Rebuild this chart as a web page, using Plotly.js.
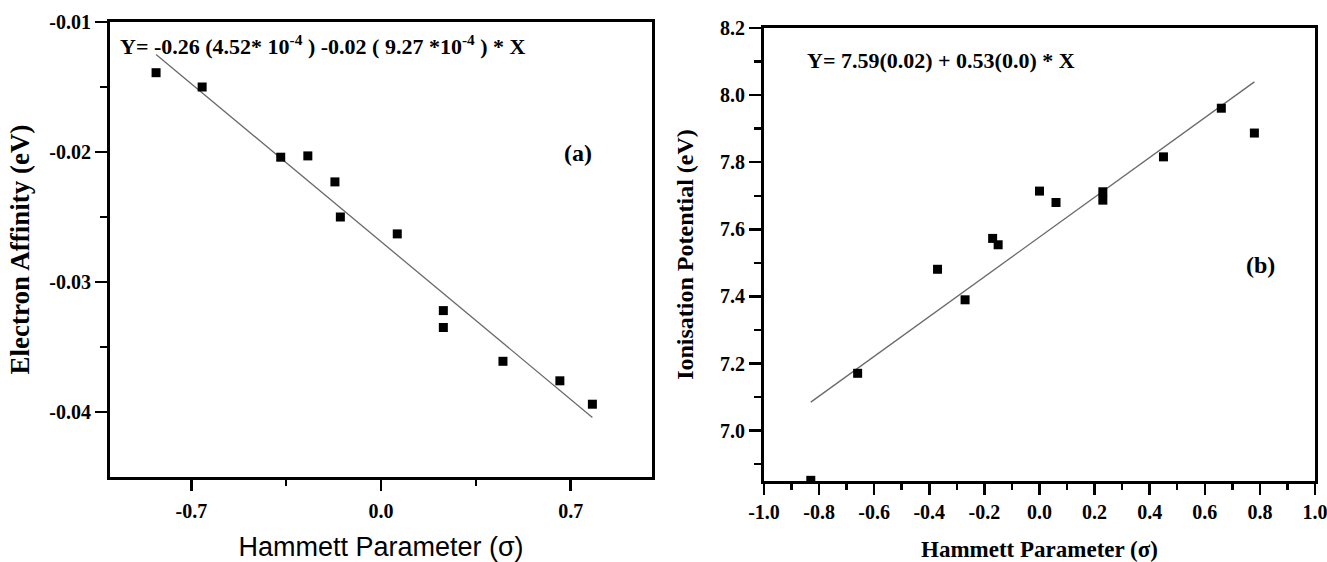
<!DOCTYPE html>
<html>
<head>
<meta charset="utf-8">
<script src="https://cdn.plot.ly/plotly-3.0.1.min.js"></script>
<style>
  html, body { margin: 0; padding: 0; background: #fff; }
  #chart { width: 1327px; height: 562px; }
</style>
</head>
<body>
<div id="chart"></div>
<script>
// ---- Data ----
// Panel (a): Hammett parameter vs electron affinity
const sigmaA = [-0.83, -0.66, -0.37, -0.27, -0.17, -0.15, 0.06, 0.23, 0.23, 0.45, 0.66, 0.78];
const electronAffinity = [-0.0139, -0.0150, -0.0204, -0.0203, -0.0223, -0.0250, -0.0263, -0.0322, -0.0335, -0.0361, -0.0376, -0.0394];

// Panel (b): Hammett parameter vs ionisation potential
const sigmaB = [-0.83, -0.66, -0.37, -0.27, -0.17, -0.15, 0.00, 0.06, 0.23, 0.23, 0.45, 0.66, 0.78];
const ionisationPotential = [6.852, 7.171, 7.481, 7.390, 7.573, 7.554, 7.714, 7.680, 7.712, 7.687, 7.816, 7.961, 7.887];

// Tick labels
const tickValsAx = [-0.7, 0.0, 0.7];
const tickTextAx = ['-0.7', '0.0', '0.7'];
const tickValsAy = [-0.04, -0.03, -0.02, -0.01];
const tickTextAy = ['-0.04', '-0.03', '-0.02', '-0.01'];
const tickValsBx = [-1.0, -0.8, -0.6, -0.4, -0.2, 0.0, 0.2, 0.4, 0.6, 0.8, 1.0];
const tickTextBx = ['-1.0', '-0.8', '-0.6', '-0.4', '-0.2', '0.0', '0.2', '0.4', '0.6', '0.8', '1.0'];
const tickValsBy = [7.0, 7.2, 7.4, 7.6, 7.8, 8.0, 8.2];
const tickTextBy = ['7.0', '7.2', '7.4', '7.6', '7.8', '8.0', '8.2'];
const minorAx = [-0.35, 0.35];
const minorAy = [-0.035, -0.025, -0.015];
const minorBx = [-0.9, -0.7, -0.5, -0.3, -0.1, 0.1, 0.3, 0.5, 0.7, 0.9];
const minorBy = [6.9, 7.1, 7.3, 7.5, 7.7, 7.9, 8.1];

// Least-squares linear fit drawn across the data range
function linFit(xs, ys) {
  const n = xs.length;
  const mx = xs.reduce((a, b) => a + b, 0) / n;
  const my = ys.reduce((a, b) => a + b, 0) / n;
  let sxy = 0, sxx = 0;
  for (let i = 0; i < n; i++) { sxy += (xs[i] - mx) * (ys[i] - my); sxx += (xs[i] - mx) ** 2; }
  const b = sxy / sxx, a = my - b * mx;
  const x0 = Math.min(...xs), x1 = Math.max(...xs);
  return { x: [x0, x1], y: [a + b * x0, a + b * x1] };
}
const fitA = linFit(sigmaA, electronAffinity);
const fitB = linFit(sigmaB, ionisationPotential);

const serif = 'Liberation Serif, Times New Roman, serif';
const sans = 'Liberation Sans, Arial, sans-serif';
const markerStyle = { symbol: 'square', size: 9, color: '#000' };
const fitLine = { color: '#6a6a6a', width: 1.3 };

const traces = [
  { x: fitA.x, y: fitA.y, xaxis: 'x', yaxis: 'y', mode: 'lines', line: fitLine, hoverinfo: 'skip' },
  { x: sigmaA, y: electronAffinity, xaxis: 'x', yaxis: 'y', mode: 'markers', marker: markerStyle },
  { x: fitB.x, y: fitB.y, xaxis: 'x2', yaxis: 'y2', mode: 'lines', line: fitLine, hoverinfo: 'skip' },
  { x: sigmaB, y: ionisationPotential, xaxis: 'x2', yaxis: 'y2', mode: 'markers', marker: markerStyle }
];

function axisBase(extra) {
  return Object.assign({
    showline: true, linecolor: '#000', linewidth: 3, mirror: true,
    showgrid: false, zeroline: false,
    ticks: 'outside', ticklen: 11, tickwidth: 2.5, tickcolor: '#000',
    tickmode: 'array', ticklabeloverflow: 'allow',
    tickfont: { family: serif, size: 20, color: '#000', weight: 'bold' }
  }, extra);
}
function minorTicks(vals, len) {
  return { tickmode: 'array', tickvals: vals, ticks: 'outside', ticklen: len, tickwidth: 2.5, tickcolor: '#000' };
}

const layout = {
  width: 1327, height: 562,
  margin: { l: 110, r: 12, t: 22, b: 81 },
  paper_bgcolor: '#fff', plot_bgcolor: '#fff',
  showlegend: false,
  xaxis: axisBase({
    domain: [0, 0.4498], range: [-1, 1], anchor: 'y',
    tickvals: tickValsAx, ticktext: tickTextAx, ticklabelstandoff: 3,
    minor: minorTicks(minorAx, 6),
    title: { text: 'Hammett Parameter (σ)', font: { family: sans, size: 27, color: '#000' }, standoff: 20 }
  }),
  yaxis: axisBase({
    domain: [0.0087, 1], range: [-0.045, -0.01], anchor: 'x',
    tickvals: tickValsAy, ticktext: tickTextAy, ticklen: 12,
    minor: minorTicks(minorAy, 7),
    title: { text: 'Electron Affinity (eV)', font: { family: serif, size: 27, color: '#000', weight: 'bold' }, standoff: 12 }
  }),
  xaxis2: axisBase({
    domain: [0.5427, 1], range: [-1, 1], anchor: 'y2',
    tickvals: tickValsBx, ticktext: tickTextBx,
    minor: minorTicks(minorBx, 6),
    title: { text: 'Hammett Parameter (σ)', font: { family: serif, size: 23, color: '#000', weight: 'bold' }, standoff: 20 }
  }),
  yaxis2: axisBase({
    domain: [0, 0.9869], range: [6.85, 8.2], anchor: 'x2',
    tickvals: tickValsBy, ticktext: tickTextBy, ticklen: 12,
    minor: minorTicks(minorBy, 7),
    title: { text: 'Ionisation Potential (eV)', font: { family: serif, size: 24, color: '#000', weight: 'bold' }, standoff: 20 }
  }),
  annotations: [
    { xref: 'paper', yref: 'paper', x: 0.0066, y: 0.9499, xanchor: 'left', yanchor: 'middle', showarrow: false,
      text: 'Y= -0.26 (4.52* 10<sup>-4</sup> ) -0.02 ( 9.27 *10<sup>-4</sup> ) * X',
      font: { family: serif, size: 22, color: '#000', weight: 'bold' } },
    { xref: 'paper', yref: 'paper', x: 0.3884, y: 0.7146, xanchor: 'center', yanchor: 'middle', showarrow: false,
      text: '(a)', font: { family: serif, size: 24, color: '#000', weight: 'bold' } },
    { xref: 'paper', yref: 'paper', x: 0.5768, y: 0.9172, xanchor: 'left', yanchor: 'middle', showarrow: false,
      text: 'Y= 7.59(0.02) + 0.53(0.0) * X',
      font: { family: serif, size: 22, color: '#000', weight: 'bold' } },
    { xref: 'paper', yref: 'paper', x: 0.9544, y: 0.4706, xanchor: 'center', yanchor: 'middle', showarrow: false,
      text: '(b)', font: { family: serif, size: 24, color: '#000', weight: 'bold' } }
  ]
};

Plotly.newPlot('chart', traces, layout, { displayModeBar: false, staticPlot: true });
</script>
</body>
</html>
